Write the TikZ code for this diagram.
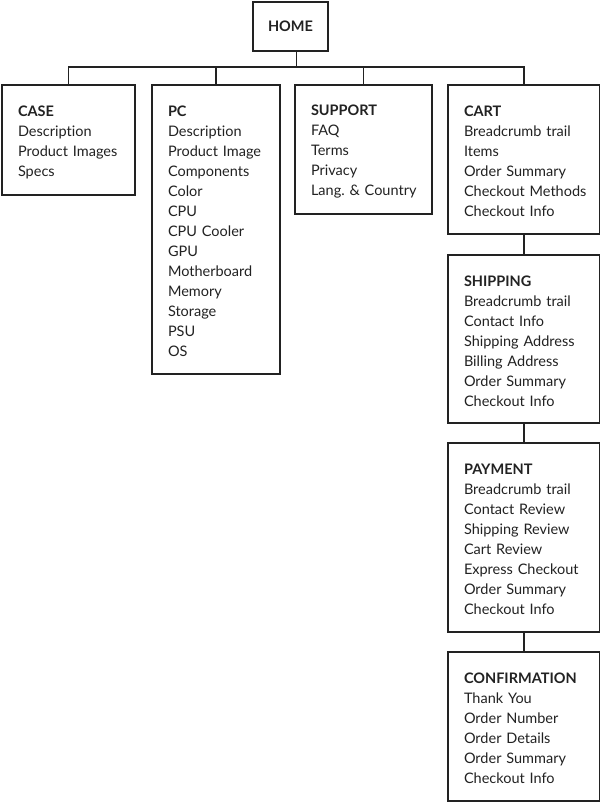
\documentclass[tikz,border=0pt]{standalone}
\usepackage{fontspec}
\usetikzlibrary{calc}
\setmainfont{Lato}[Ligatures=NoCommon]
\definecolor{ink}{HTML}{222222}
\newcommand\bodyfont{\fontsize{14.5}{20}\selectfont\hyphenpenalty=10000\exhyphenpenalty=10000\hbadness=10000\hfuzz=100pt}
\newcommand\hd[1]{\rule{0pt}{14.5pt}\textbf{#1}}
\begin{document}
\begin{tikzpicture}[x=1pt,y=-1pt,
  box/.style={draw=ink, line width=2pt, rectangle, anchor=north west,
    inner xsep=16pt, inner ysep=0pt, align=left, font=\bodyfont, text=ink},
  link/.style={draw=ink, line width=1.3pt}]
\useasboundingbox (0,0) rectangle (600,804);
\fill[white] (0,0) rectangle (600,804);

\node[box, inner xsep=0pt, align=center, minimum width=75pt, minimum height=49pt] (home) at (252,1) {\textbf{HOME}};

\node[box, text width=101pt, minimum height=110pt] (case) at (1,84)
  {\hd{CASE}\\Description\\Product~Images\\Specs};
\node[box, text width=96pt, minimum height=289pt] (pc) at (151,84)
  {\hd{PC}\\Description\\Product~Image\\Components\\Color\\CPU\\CPU~Cooler\\GPU\\Motherboard\\Memory\\Storage\\PSU\\OS};
\node[box, text width=105pt, minimum height=129pt] (support) at (294,84)
  {\hd{SUPPORT}\\FAQ\\Terms\\Privacy\\Lang.~\&~Country};
\node[box, text width=120pt, minimum height=149pt] (cart) at (447,84)
  {\hd{CART}\\Breadcrumb~trail\\Items\\Order~Summary\\Checkout~Methods\\Checkout~Info};
\node[box, text width=120pt, minimum height=168pt] (shipping) at (447,254)
  {\hd{SHIPPING}\\Breadcrumb~trail\\Contact~Info\\Shipping~Address\\Billing~Address\\Order~Summary\\Checkout~Info};
\node[box, text width=120pt, minimum height=189pt] (payment) at (447,442)
  {\hd{PAYMENT}\\Breadcrumb~trail\\Contact~Review\\Shipping~Review\\Cart~Review\\Express~Checkout\\Order~Summary\\Checkout~Info};
\node[box, text width=120pt, minimum height=149pt] (confirmation) at (447,651)
  {\hd{CONFIRMATION}\\Thank~You\\Order~Number\\Order~Details\\Order~Summary\\Checkout~Info};

\coordinate (busL) at ($(case.north)+(0,-17)$);
\coordinate (busR) at ($(cart.north)+(0,-17)$);
\coordinate (busM) at ($(busL)!0.5!(busR)$);

\draw[link] (case.north) -- (busL) -- (busR) -- (cart.north);
\draw[link] (pc.north) -- (pc.north |- busL);
\draw[link] (support.north) -- (support.north |- busL);
\draw[link] (home.south -| busM) -- (busM);
\draw[link] (cart.south) -- (shipping.north);
\draw[link] (shipping.south) -- (payment.north);
\draw[link] (payment.south) -- (confirmation.north);
\end{tikzpicture}
\end{document}
